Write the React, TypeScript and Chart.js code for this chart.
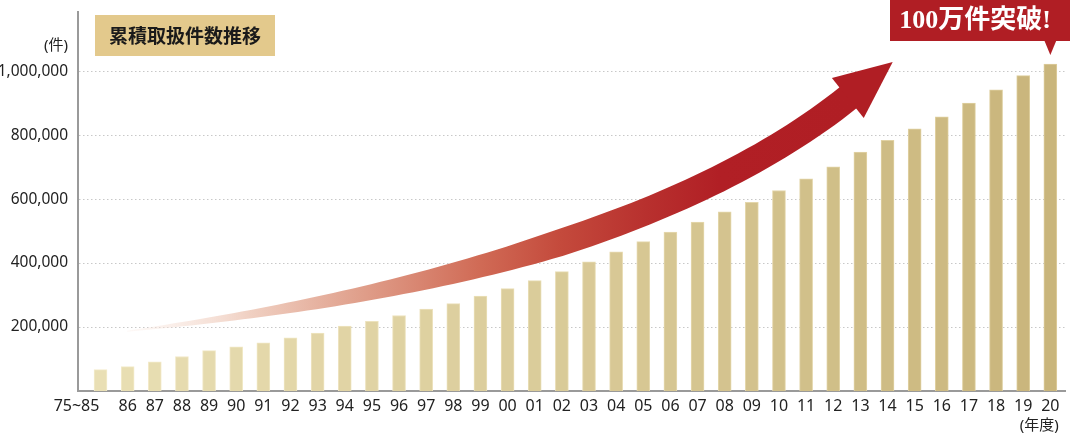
import React, { useEffect, useRef } from 'react';
import { Chart, registerables } from 'chart.js';

Chart.register(...registerables);

// ---- data ----
const categories: string[] = [
  '75~85', '86', '87', '88', '89', '90', '91', '92', '93', '94', '95', '96', '97', '98', '99',
  '00', '01', '02', '03', '04', '05', '06', '07', '08', '09', '10', '11', '12', '13', '14',
  '15', '16', '17', '18', '19', '20',
];
const cumulativeCases: number[] = [
  67000, 76000, 91000, 108000, 126000, 138000, 151000, 166000, 181000, 203000,
  218000, 236000, 256000, 273000, 297000, 320000, 345000, 373000,
  404000, 435000, 467000, 497000, 528000, 560000, 590000, 627000, 663000, 701000,
  747000, 784000, 820000, 857000, 900000, 942000, 986000, 1022000,
];
const yTickValues: number[] = [200000, 400000, 600000, 800000, 1000000];
const chartTitle = '累積取扱件数推移';
const calloutText = '100万件突破!';
const yUnitLabel = '(件)';
const xUnitLabel = '(年度)';

// arrow anchors in data units (category index, value)
const arrowStart = { x: 0.98, y: 187000 };
const arrowCtrl1 = { x: 8.35, y: 262000 };
const arrowCtrl2 = { x: 20.39, y: 431000 };
const arrowEnd = { x: 27.58, y: 919000 };

const SANS = '"Noto Sans", "Noto Sans CJK JP", sans-serif';

function mix(a: number[], b: number[], t: number) {
  return `rgb(${a.map((v, i) => Math.round(v + (b[i] - v) * t)).join(',')})`;
}
const barFill = (i: number) => mix([233, 223, 180], [201, 181, 123], i / (categories.length - 1));
const barEdge = (i: number) => mix([244, 236, 204], [221, 205, 156], i / (categories.length - 1));

const decorPlugin = {
  id: 'decor',
  beforeDatasetsDraw(chart: any) {
    const { ctx, scales } = chart;
    const xs = scales.x, ys = scales.y;
    const P = (p: { x: number; y: number }) => ({ x: xs.getPixelForValue(p.x), y: ys.getPixelForValue(p.y) });
    const p0 = P(arrowStart), c1 = P(arrowCtrl1), c2 = P(arrowCtrl2), p3 = P(arrowEnd);
    const bez = (t: number) => {
      const a = (1 - t) ** 3, b = 3 * (1 - t) ** 2 * t, c = 3 * (1 - t) * t * t, d = t ** 3;
      return { x: a * p0.x + b * c1.x + c * c2.x + d * p3.x, y: a * p0.y + b * c1.y + c * c2.y + d * p3.y };
    };
    const tan = (t: number) => {
      const a = 3 * (1 - t) ** 2, b = 6 * (1 - t) * t, c = 3 * t * t;
      const dx = a * (c1.x - p0.x) + b * (c2.x - c1.x) + c * (p3.x - c2.x);
      const dy = a * (c1.y - p0.y) + b * (c2.y - c1.y) + c * (p3.y - c2.y);
      const l = Math.hypot(dx, dy) || 1;
      return { x: dx / l, y: dy / l };
    };
    const maxW = 27;
    const N = 80;
    const upper: any[] = [], lower: any[] = [];
    for (let k = 0; k <= N; k++) {
      const t = k / N;
      const p = bez(t), d = tan(t);
      const f = (p.x - p0.x) / (p3.x - p0.x);
      const w = 1 + (maxW - 1) * Math.min(1, f / 0.6);
      const nx = -d.y, ny = d.x;
      upper.push({ x: p.x - nx * w / 2, y: p.y - ny * w / 2 });
      lower.push({ x: p.x + nx * w / 2, y: p.y + ny * w / 2 });
    }
    const g = ctx.createLinearGradient(p0.x, 0, p3.x, 0);
    g.addColorStop(0, 'rgba(250,235,228,0.3)');
    g.addColorStop(0.17, '#f0d0c2');
    g.addColorStop(0.32, '#e0a08c');
    g.addColorStop(0.49, '#d06a55');
    g.addColorStop(0.6, '#c44a3c');
    g.addColorStop(0.72, '#b8302e');
    g.addColorStop(0.82, '#b11f25');
    g.addColorStop(1, '#b01e24');
    ctx.save();
    ctx.beginPath();
    upper.forEach((p, i) => (i ? ctx.lineTo(p.x, p.y) : ctx.moveTo(p.x, p.y)));
    for (let i = lower.length - 1; i >= 0; i--) ctx.lineTo(lower[i].x, lower[i].y);
    ctx.closePath();
    ctx.fillStyle = g;
    ctx.fill();
    // arrow head
    const d = tan(1);
    const nx = -d.y, ny = d.x;
    ctx.beginPath();
    ctx.moveTo(p3.x + d.x * 56, p3.y + d.y * 56);
    ctx.lineTo(p3.x + nx * 25.5 - d.x * 1.5, p3.y + ny * 25.5 - d.y * 1.5);
    ctx.lineTo(p3.x - nx * 25.5 - d.x * 1.5, p3.y - ny * 25.5 - d.y * 1.5);
    ctx.closePath();
    ctx.fillStyle = '#b01e24';
    ctx.fill();
    ctx.restore();
  },
  afterDraw(chart: any) {
    const { ctx, chartArea, scales } = chart;
    const xs = scales.x;
    ctx.save();
    // title box
    const bx = chartArea.left + 17, by = 15, bw = 180, bh = 41;
    ctx.fillStyle = '#e3c98c';
    ctx.fillRect(bx, by, bw, bh);
    ctx.font = 'bold 19px "Noto Sans CJK JP", sans-serif';
    ctx.fillStyle = '#1a1a1a';
    ctx.textAlign = 'center';
    ctx.textBaseline = 'middle';
    ctx.fillText(chartTitle, bx + bw / 2, by + bh / 2);

    // callout
    const lastX = xs.getPixelForValue(categories.length - 1);
    const cx0 = 890, cx1 = chart.width, cy1 = 41;
    ctx.fillStyle = '#b01e24';
    ctx.fillRect(cx0, 0, cx1 - cx0, cy1);
    ctx.beginPath();
    ctx.moveTo(lastX - 6, cy1 - 0.5);
    ctx.lineTo(lastX + 6, cy1 - 0.5);
    ctx.lineTo(lastX, 55);
    ctx.closePath();
    ctx.fill();
    ctx.fillStyle = '#ffffff';
    ctx.font = 'bold 26px "Liberation Serif", "Noto Sans CJK JP", serif';
    ctx.fillText(calloutText, (cx0 + lastX + 10) / 2, 21);

    // unit labels
    ctx.fillStyle = '#222';
    ctx.font = `15px ${SANS}`;
    ctx.textAlign = 'right';
    ctx.fillText(yUnitLabel, chartArea.left - 10, 46);
    ctx.textAlign = 'center';
    ctx.fillText(xUnitLabel, lastX - 11, 426);
    ctx.restore();
  },
};

export default function App() {
  const ref = useRef<HTMLCanvasElement | null>(null);
  useEffect(() => {
    if (!ref.current) return;
    const chart = new Chart(ref.current, {
      type: 'bar',
      data: {
        datasets: [
          {
            data: cumulativeCases.map((v, i) => ({ x: i, y: v })),
            backgroundColor: (c: any) => barFill(c.dataIndex),
            borderColor: (c: any) => barEdge(c.dataIndex),
            borderWidth: { left: 1, right: 1, top: 1, bottom: 0 },
            barThickness: 13,
          } as any,
        ],
      },
      options: {
        responsive: false,
        devicePixelRatio: 1,
        animation: false,
        layout: { padding: { top: 12, right: 5, left: 0, bottom: 0 }, autoPadding: false },
        plugins: { legend: { display: false }, tooltip: { enabled: false } },
        scales: {
          x: {
            type: 'linear',
            min: -0.83,
            max: 35.54,
            offset: false,
            afterBuildTicks: (s: any) => {
              s.ticks = categories.map((_, i) => ({ value: i }));
            },
            afterFit: (s: any) => {
              s.height = 43;
              s.paddingLeft = 0;
              s.paddingRight = 0;
            },
            grid: { display: false, drawTicks: false },
            border: { display: true, color: '#9a9a9a', width: 2 },
            ticks: {
              autoSkip: false,
              maxRotation: 0,
              minRotation: 0,
              padding: 6,
              color: '#222',
              font: { size: 16, family: SANS },
              callback: (v: any) => {
                const i = Math.round(Number(v));
                return i === 0 ? categories[0] + '\u2003\u2003\u2003' : categories[i];
              },
            },
          },
          y: {
            min: 0,
            max: 1185000,
            afterBuildTicks: (s: any) => {
              s.ticks = yTickValues.map((v) => ({ value: v }));
            },
            afterFit: (s: any) => {
              s.width = 78;
              s.paddingTop = 0;
              s.paddingBottom = 0;
            },
            grid: { color: '#c8c8c8', lineWidth: 1, drawTicks: false },
            border: { display: true, color: '#9a9a9a', width: 2, dash: [1.5, 2.5] },
            ticks: {
              padding: 10,
              color: '#222',
              font: { size: 15.5, family: SANS },
              callback: (v: any) => Number(v).toLocaleString('en-US'),
            },
          },
        },
      } as any,
      plugins: [decorPlugin],
    });
    return () => chart.destroy();
  }, []);
  return (
    <div style={{ position: 'absolute', left: 0, top: 0, width: 1070, height: 434, background: '#fff' }}>
      <canvas ref={ref} width={1070} height={434} />
    </div>
  );
}
